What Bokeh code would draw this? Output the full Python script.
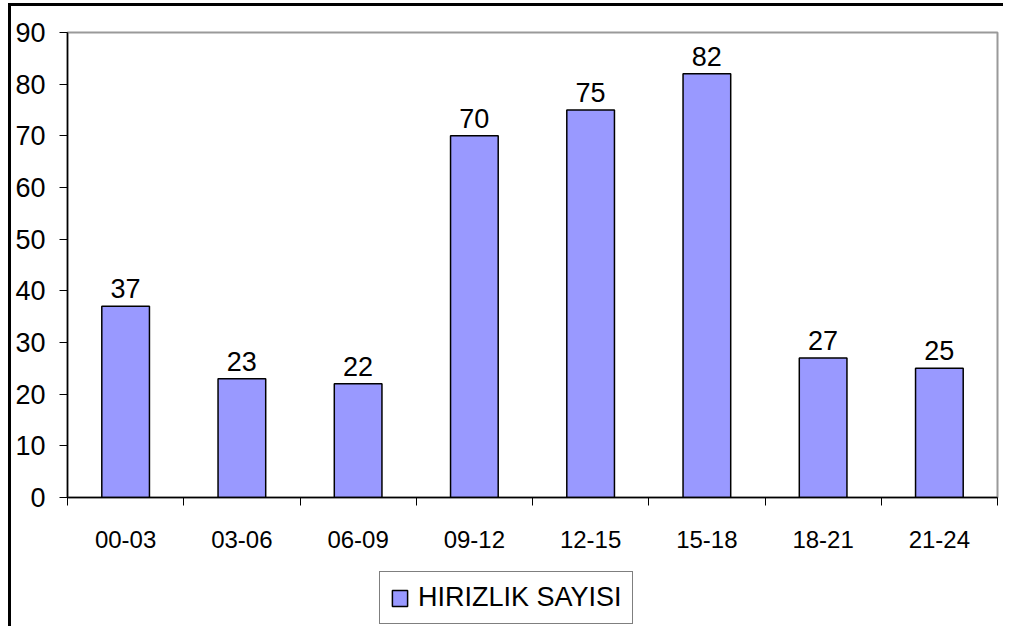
from bokeh.plotting import figure
from bokeh.layouts import column
from bokeh.models import Range1d, FixedTicker, ColumnDataSource, Legend, LegendItem, LabelSet
from bokeh.core.properties import value
from bokeh.embed import file_html
from bokeh.resources import INLINE

categories = ["00-03", "03-06", "06-09", "09-12", "12-15", "15-18", "18-21", "21-24"]
values = [37, 23, 22, 70, 75, 82, 27, 25]
series_name = "HIRIZLIK SAYISI"
y_ticks = [0, 10, 20, 30, 40, 50, 60, 70, 80, 90]

FONT = "Liberation Sans"
BAR_FILL = "#9999FF"
xs = [i + 0.5 for i in range(len(categories))]
src = ColumnDataSource(dict(x=xs, top=values, label=[str(v) for v in values]))

p = figure(width=992, height=560, output_backend="svg", toolbar_location=None,
           x_range=Range1d(0, len(categories)), y_range=Range1d(0, 90),
           min_border_left=56, min_border_top=26, min_border_right=6, min_border_bottom=69)
p.grid.visible = False
p.outline_line_color = "#9a9a9a"
p.outline_line_width = 2
p.background_fill_color = "white"
p.border_fill_color = "white"

r = p.vbar(x="x", top="top", width=0.41, source=src, fill_color=BAR_FILL,
           line_color="black", line_width=1.5)

labels = LabelSet(x="x", y="top", text="label", source=src, text_align="center",
                  text_baseline="alphabetic", y_offset=8, text_font=value(FONT),
                  text_font_size=value("27px"), text_color="black")
p.add_layout(labels)

p.yaxis.ticker = FixedTicker(ticks=y_ticks)
p.yaxis.major_tick_out = 8
p.yaxis.major_tick_in = 0
p.yaxis.minor_tick_out = 0
p.yaxis.minor_tick_in = 0
p.yaxis.major_label_text_font = FONT
p.yaxis.major_label_text_font_size = "27px"
p.yaxis.major_label_text_color = "black"
p.yaxis.major_label_standoff = 14
p.yaxis.axis_line_color = "black"
p.yaxis.major_tick_line_color = "black"

p.xaxis.ticker = FixedTicker(ticks=xs, minor_ticks=list(range(len(categories) + 1)))
p.xaxis.major_label_overrides = {x: c for x, c in zip(xs, categories)}
p.xaxis.major_tick_out = 0
p.xaxis.major_tick_in = 0
p.xaxis.minor_tick_out = 8
p.xaxis.minor_tick_in = 0
p.xaxis.minor_tick_line_color = "black"
p.xaxis.major_label_text_font = FONT
p.xaxis.major_label_text_font_size = "24px"
p.xaxis.major_label_text_color = "black"
p.xaxis.major_label_standoff = 25
p.xaxis.axis_line_color = "black"
p.axis.axis_line_width = 1.5

# legend in a companion strip under the chart (frames are aligned by the column)
lf = figure(width=992, height=56, output_backend="svg", toolbar_location=None,
            x_axis_type=None, y_axis_type=None, x_range=Range1d(0, 1), y_range=Range1d(0, 1),
            min_border_left=56, min_border_right=6, min_border_top=0, min_border_bottom=0)
lf.grid.visible = False
lf.outline_line_color = None
lf.border_fill_color = "white"
lf.background_fill_color = "white"
# proxy renderer with no drawable bar, only to style the legend swatch
lr = lf.vbar(x=[0.5], top=[float("nan")], width=0.41, fill_color=BAR_FILL,
             line_color="black", line_width=1.5)
legend = Legend(items=[LegendItem(label=series_name, renderers=[lr])],
                location=(312, 2), orientation="vertical",
                label_text_font=FONT, label_text_font_size="27px",
                label_text_color="black",
                glyph_width=19, glyph_height=20, label_standoff=9,
                padding=10, margin=0, spacing=0,
                border_line_color="black", border_line_width=1.5,
                background_fill_color="white", background_fill_alpha=1)
lf.add_layout(legend, "center")
lf.margin = (4, 0, 0, 0)

layout = column(p, lf, spacing=0)
layout.styles = {"border-left": "3px solid black", "border-top": "3px solid black",
                 "margin-top": "3px", "margin-left": "8px"}

open("out.html", "w").write(file_html(layout, INLINE))
